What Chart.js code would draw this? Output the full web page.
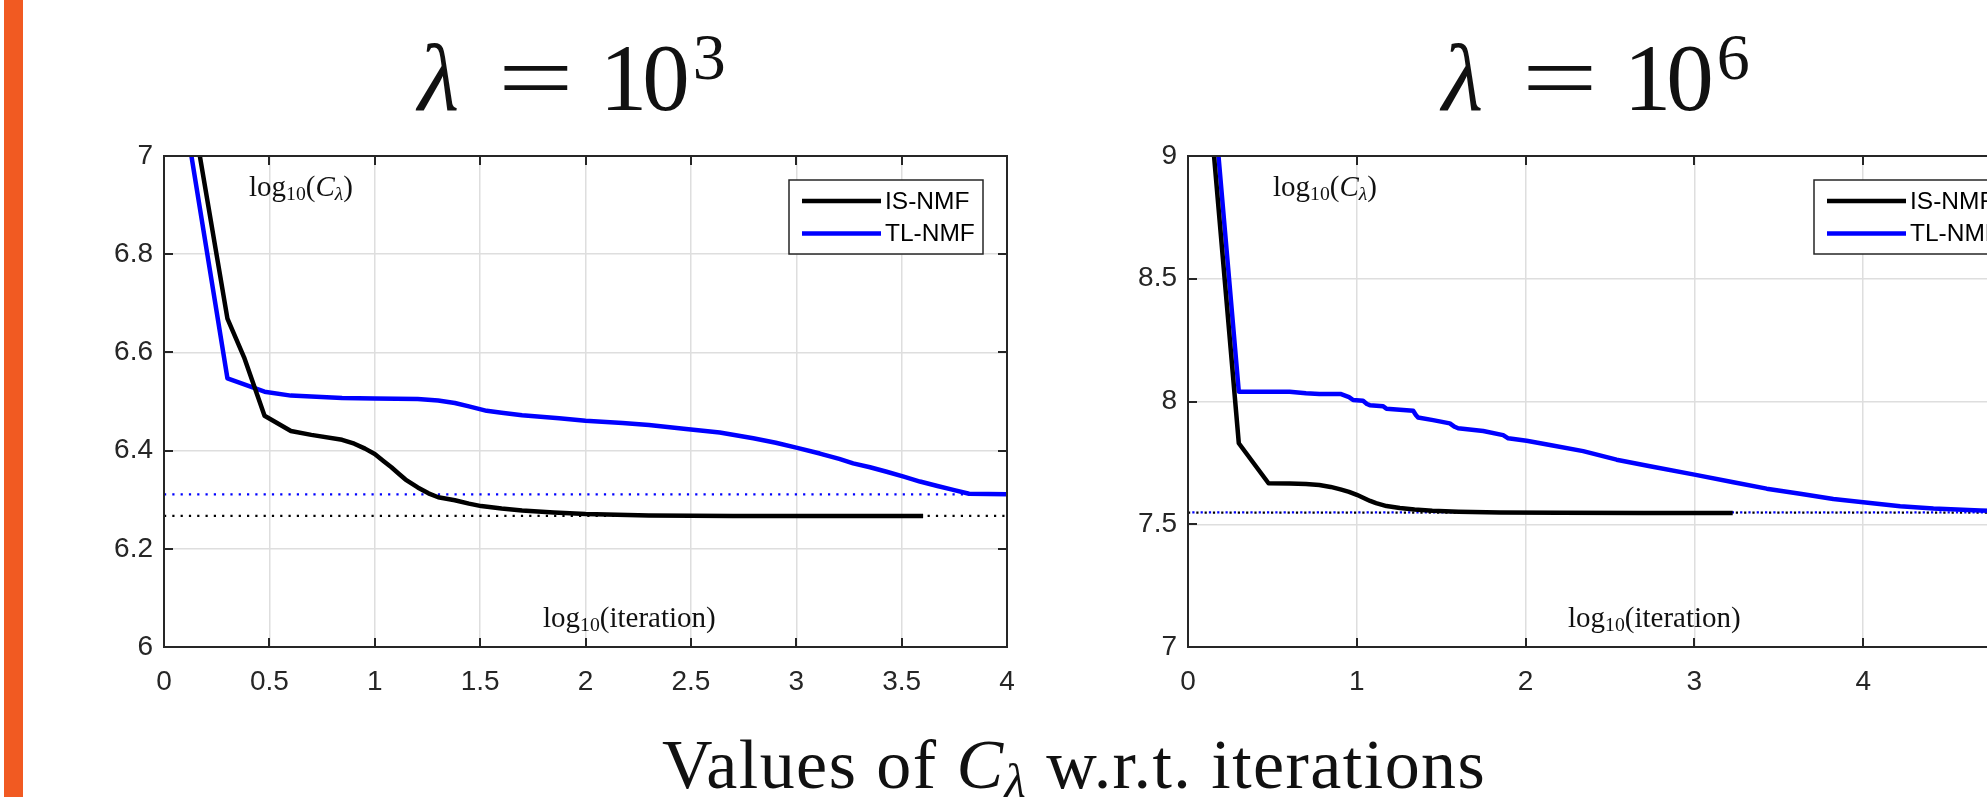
<!DOCTYPE html>
<html><head><meta charset="utf-8">
<script src="https://cdn.jsdelivr.net/npm/chart.js@4.4.1/dist/chart.umd.min.js"></script>
<style>
html,body{margin:0;padding:0;background:#fff;}
body{width:1987px;height:797px;overflow:hidden;position:relative;}
.bar{position:absolute;left:4px;top:0;width:19px;height:797px;background:#F15A22;}
canvas{position:absolute;}
.tx{position:absolute;white-space:nowrap;line-height:1;font-family:"Liberation Serif","Times New Roman",serif;color:#111;}
.title{font-size:95px;}
.title .lam{font-style:italic;}
.title .eq{display:inline-block;transform:scaleX(1.42);margin:0 37px 0 50px;}
.title .num{letter-spacing:-5px;}
.title .sup{font-size:66px;position:relative;top:-31px;margin-left:8px;}
.lab{font-size:29px;}
.lab sub{font-size:0.68em;vertical-align:baseline;position:relative;top:0.22em;}
.cap{font-size:70px;letter-spacing:1.45px;}
.cap sub{font-size:0.7em;vertical-align:baseline;position:relative;top:0.18em;}
</style></head>
<body>
<div class="bar"></div>
<canvas id="c1" width="973" height="581" style="left:64px;top:126px"></canvas>
<canvas id="c2" width="974" height="581" style="left:1088px;top:126px"></canvas>

<div class="tx title" style="left:418px;top:31px"><span class="lam">λ</span><span class="eq">=</span><span class="num">10</span><span class="sup">3</span></div>
<div class="tx title" style="left:1442px;top:31px"><span class="lam">λ</span><span class="eq">=</span><span class="num">10</span><span class="sup">6</span></div>

<div class="tx lab" style="left:249px;top:172px">log<sub>10</sub>(<i>C</i><sub><i>λ</i></sub>)</div>
<div class="tx lab" style="left:543px;top:603px">log<sub>10</sub>(iteration)</div>
<div class="tx lab" style="left:1273px;top:172px">log<sub>10</sub>(<i>C</i><sub><i>λ</i></sub>)</div>
<div class="tx lab" style="left:1568px;top:603px">log<sub>10</sub>(iteration)</div>

<div class="tx cap" style="left:662px;top:730px">Values of <i>C</i><sub><i>λ</i></sub> w.r.t. iterations</div>

<script>
// ---------- data: left panel (lambda = 10^3) ----------
const leftXTicks  = [0, 0.5, 1, 1.5, 2, 2.5, 3, 3.5, 4];
const leftXLabels = ['0','0.5','1','1.5','2','2.5','3','3.5','4'];
const leftYTicks  = [6, 6.2, 6.4, 6.6, 6.8, 7];
const leftYLabels = ['6','6.2','6.4','6.6','6.8','7'];

const leftIsX = [0, 0.301, 0.38, 0.477, 0.602, 0.699, 0.845, 0.903, 0.954, 1.0, 1.041, 1.079, 1.114, 1.146, 1.204, 1.255, 1.301, 1.38, 1.447, 1.505, 1.602, 1.699, 1.85, 2.0, 2.3, 2.7, 3.0, 3.602];
const leftIsY = [7.43, 6.669, 6.59, 6.471, 6.440, 6.432, 6.422, 6.414, 6.404, 6.393, 6.379, 6.366, 6.353, 6.341, 6.325, 6.313, 6.305, 6.299, 6.292, 6.287, 6.282, 6.278, 6.274, 6.271, 6.268, 6.267, 6.267, 6.267];

const leftTlX = [0, 0.301, 0.477, 0.602, 0.699, 0.845, 1.0, 1.204, 1.301, 1.38, 1.447, 1.531, 1.602, 1.699, 1.875, 2.0, 2.176, 2.301, 2.477, 2.637, 2.796, 2.903, 3.0, 3.112, 3.204, 3.27, 3.35, 3.429, 3.51, 3.587, 3.67, 3.745, 3.82, 4.0];
const leftTlY = [7.345, 6.547, 6.520, 6.512, 6.510, 6.507, 6.506, 6.505, 6.502, 6.497, 6.490, 6.481, 6.477, 6.472, 6.466, 6.461, 6.456, 6.452, 6.444, 6.437, 6.425, 6.416, 6.406, 6.394, 6.383, 6.374, 6.366, 6.357, 6.347, 6.337, 6.328, 6.320, 6.312, 6.311];

const leftIsRef = 6.267;
const leftTlRef = 6.311;

// ---------- data: right panel (lambda = 10^6) ----------
const rightXTicks  = [0, 1, 2, 3, 4, 5];
const rightXLabels = ['0','1','2','3','4','5'];
const rightYTicks  = [7, 7.5, 8, 8.5, 9];
const rightYLabels = ['7','7.5','8','8.5','9'];

const rightIsX = [0, 0.301, 0.477, 0.602, 0.699, 0.778, 0.845, 0.903, 0.954, 1.0, 1.041, 1.079, 1.114, 1.176, 1.255, 1.342, 1.447, 1.602, 1.85, 2.2, 2.7, 3.227];
const rightIsY = [10.23, 7.83, 7.667, 7.666, 7.664, 7.660, 7.652, 7.642, 7.632, 7.620, 7.607, 7.595, 7.586, 7.574, 7.566, 7.560, 7.555, 7.551, 7.548, 7.547, 7.546, 7.546];

const rightTlX = [0, 0.301, 0.602, 0.699, 0.778, 0.903, 0.954, 0.978, 1.037, 1.06, 1.077, 1.156, 1.176, 1.334, 1.35, 1.363, 1.452, 1.551, 1.58, 1.6, 1.749, 1.867, 1.897, 2.006, 2.144, 2.341, 2.539, 2.737, 3.0, 3.231, 3.428, 3.626, 3.823, 4.0, 4.219, 4.416, 4.693, 4.9];
const rightTlY = [10.44, 8.04, 8.04, 8.034, 8.031, 8.031, 8.018, 8.006, 8.003, 7.99, 7.985, 7.981, 7.970, 7.962, 7.945, 7.935, 7.924, 7.911, 7.897, 7.891, 7.880, 7.863, 7.850, 7.840, 7.823, 7.798, 7.763, 7.736, 7.702, 7.671, 7.645, 7.624, 7.603, 7.590, 7.573, 7.564, 7.556, 7.552];

const rightIsRef = 7.547;
const rightTlRef = 7.548;

const seriesNames = ['IS-NMF', 'TL-NMF'];
const seriesColors = ['#000000', '#0000FF'];

// ---------- helpers ----------
const pts = (xs, ys) => xs.map((x, i) => ({x: x, y: ys[i]}));

const axisColor = '#262626';

const framePlugin = {
  id: 'frame',
  afterDraw(chart) {
    const ctx = chart.ctx, a = chart.chartArea;
    const xs = chart.scales.x, ys = chart.scales.y;
    ctx.save();
    ctx.strokeStyle = axisColor;
    ctx.lineWidth = 2;
    ctx.lineCap = 'butt';
    ctx.beginPath();
    const tl = 9;
    xs.ticks.forEach(t => {
      const p = Math.round(xs.getPixelForValue(t.value));
      ctx.moveTo(p, a.bottom); ctx.lineTo(p, a.bottom - tl);
      ctx.moveTo(p, a.top); ctx.lineTo(p, a.top + tl);
    });
    ys.ticks.forEach(t => {
      const p = Math.round(ys.getPixelForValue(t.value));
      ctx.moveTo(a.left, p); ctx.lineTo(a.left + tl, p);
      ctx.moveTo(a.right, p); ctx.lineTo(a.right - tl, p);
    });
    ctx.stroke();
    ctx.strokeRect(a.left, a.top, a.right - a.left, a.bottom - a.top);

    // legend box
    const bx = a.right - 218, by = a.top + 24, bw = 194, bh = 74;
    ctx.fillStyle = '#ffffff';
    ctx.fillRect(bx, by, bw, bh);
    ctx.lineWidth = 1.5;
    ctx.strokeRect(bx, by, bw, bh);
    const items = chart.data.datasets.filter(d => d.inLegend);
    items.sort((p, q) => p.legendIndex - q.legendIndex);
    items.forEach((d, i) => {
      const yy = by + 21 + i * 32.5;
      ctx.strokeStyle = d.borderColor;
      ctx.lineWidth = 4.5;
      ctx.beginPath();
      ctx.moveTo(bx + 13, yy); ctx.lineTo(bx + 92, yy);
      ctx.stroke();
      ctx.fillStyle = '#000';
      ctx.font = '24.5px "Liberation Sans", Arial, sans-serif';
      ctx.textBaseline = 'middle';
      ctx.textAlign = 'left';
      ctx.fillText(d.label, bx + 96, yy + 1);
    });
    ctx.restore();
  }
};

function makeChart(id, o) {
  const tickFont = {family: '"Liberation Sans", Arial, sans-serif', size: 28};
  return new Chart(document.getElementById(id), {
    type: 'scatter',
    data: {
      datasets: [
        {label: seriesNames[0], data: pts(o.isX, o.isY), borderColor: seriesColors[0], borderWidth: 4.5, showLine: true, pointRadius: 0, order: 0, inLegend: true, legendIndex: 0, clip: 0, borderJoinStyle: 'round'},
        {label: seriesNames[1], data: pts(o.tlX, o.tlY), borderColor: seriesColors[1], borderWidth: 4.5, showLine: true, pointRadius: 0, order: 1, inLegend: true, legendIndex: 1, clip: 0, borderJoinStyle: 'round'},
        {label: 'TL ref', data: pts([o.xMin, o.xMax], [o.tlRef, o.tlRef]), borderColor: seriesColors[1], borderWidth: 2.2, borderDash: [2.2, 6.1], borderDashOffset: o.dashOff, showLine: true, pointRadius: 0, order: 2, clip: 0},
        {label: 'IS ref', data: pts([o.xMin, o.xMax], [o.isRef, o.isRef]), borderColor: seriesColors[0], borderWidth: 2.2, borderDash: [2.2, 6.1], showLine: true, pointRadius: 0, order: 3, clip: 0}
      ]
    },
    options: {
      responsive: false,
      animation: false,
      events: [],
      layout: {padding: {top: 30, right: o.padRight, left: 0, bottom: 0}},
      plugins: {legend: {display: false}, tooltip: {enabled: false}, title: {display: false}},
      scales: {
        x: {
          type: 'linear', min: o.xMin, max: o.xMax,
          afterBuildTicks: s => { s.ticks = o.xTicks.map(v => ({value: v})); },
          afterFit: s => { s.height = 60; },
          grid: {color: '#dedede', lineWidth: 1.5, drawTicks: false},
          border: {display: false},
          ticks: {color: axisColor, font: tickFont, padding: 18, maxRotation: 0, autoSkip: false,
                  callback: (v, i) => o.xLabels[i]}
        },
        y: {
          type: 'linear', min: o.yMin, max: o.yMax,
          afterBuildTicks: s => { s.ticks = o.yTicks.map(v => ({value: v})); },
          afterFit: s => { s.width = 100; },
          grid: {color: '#dedede', lineWidth: 1.5, drawTicks: false},
          border: {display: false},
          ticks: {color: axisColor, font: tickFont, padding: 11, autoSkip: false,
                  callback: (v, i) => o.yLabels[i]}
        }
      }
    },
    plugins: [framePlugin]
  });
}

makeChart('c1', {
  isX: leftIsX, isY: leftIsY, tlX: leftTlX, tlY: leftTlY,
  isRef: leftIsRef, tlRef: leftTlRef, dashOff: 0,
  xMin: 0, xMax: 4, yMin: 6, yMax: 7,
  xTicks: leftXTicks, xLabels: leftXLabels, yTicks: leftYTicks, yLabels: leftYLabels,
  padRight: 30
});
makeChart('c2', {
  isX: rightIsX, isY: rightIsY, tlX: rightTlX, tlY: rightTlY,
  isRef: rightIsRef, tlRef: rightTlRef, dashOff: 4,
  xMin: 0, xMax: 5, yMin: 7, yMax: 9,
  xTicks: rightXTicks, xLabels: rightXLabels, yTicks: rightYTicks, yLabels: rightYLabels,
  padRight: 30
});
</script>
</body></html>
